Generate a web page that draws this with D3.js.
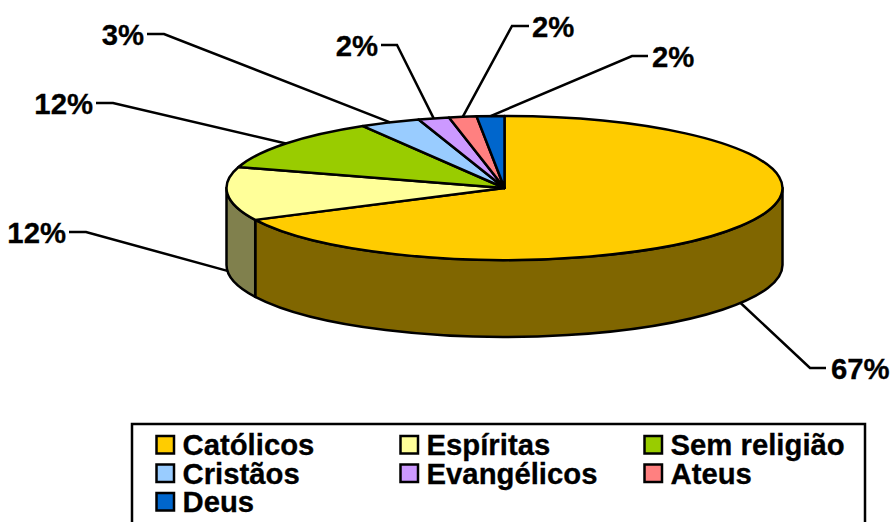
<!DOCTYPE html>
<html>
<head>
<meta charset="utf-8">
<style>
    html, body { margin: 0; padding: 0; background: #fff; overflow: hidden; }
    text { font-family: "Liberation Sans", Arial, sans-serif; font-weight: bold; fill: #000; stroke: #000; stroke-width: 0.3px; }
</style>
</head>
<body>
<div id="chart"></div>
<script src="https://cdn.jsdelivr.net/npm/d3@7"></script>
<script>
var categories = ['Católicos', 'Espíritas', 'Sem religião', 'Cristãos', 'Evangélicos', 'Ateus', 'Deus'];
var values     = [67.7, 12.0, 11.8, 3.5, 1.8, 1.6, 1.6];
var pctLabels  = ['67%', '12%', '12%', '3%', '2%', '2%', '2%'];
var colors     = ['#ffcc00', '#ffff99', '#99cc00', '#99ccff', '#cc99ff', '#ff8080', '#0066cc'];

(function () {
    var width = 892, height = 522;
    var cx = 504.5, cy = 188, rx = 278, ry = 72, depth = 77;
    var fontSize = 29.3, lineWidth = 2.5;

    // leader elbow, stub end and text anchor for each slice
    var leaders = [
        { ex: 810, ey: 368, sx: 826, tx: 831, anchor: 'start' },
        { ex: 86,  ey: 232, sx: 69,  tx: 66,  anchor: 'end' },
        { ex: 113, ey: 103, sx: 96,  tx: 93,  anchor: 'end' },
        { ex: 164, ey: 34,  sx: 147, tx: 144, anchor: 'end' },
        { ex: 397, ey: 45,  sx: 381, tx: 378, anchor: 'end' },
        { ex: 512, ey: 26,  sx: 529, tx: 532, anchor: 'start' },
        { ex: 632, ey: 56,  sx: 648, tx: 652, anchor: 'start' }
    ];

    var svg = d3.select('#chart')
        .append('svg')
        .attr('width', width)
        .attr('height', height)
        .attr('viewBox', '0 0 ' + width + ' ' + height);

    var arcs = d3.pie().sort(null)(values);

    function px(a) { return cx + rx * Math.sin(a); }
    function py(a) { return cy - ry * Math.cos(a); }

    function topPath(d) {
        var large = d.endAngle - d.startAngle > Math.PI ? 1 : 0;
        return 'M' + cx + ',' + cy +
            'L' + px(d.startAngle) + ',' + py(d.startAngle) +
            'A' + rx + ',' + ry + ' 0 ' + large + ' 1 ' + px(d.endAngle) + ',' + py(d.endAngle) + 'Z';
    }

    // only the part of a slice between 3 and 9 o'clock shows its wall
    function sidePath(d) {
        var a0 = Math.max(d.startAngle, Math.PI / 2);
        var a1 = Math.min(d.endAngle, Math.PI * 1.5);
        if (a1 <= a0) return null;
        return 'M' + px(a0) + ',' + py(a0) +
            'A' + rx + ',' + ry + ' 0 0 1 ' + px(a1) + ',' + py(a1) +
            'L' + px(a1) + ',' + (py(a1) + depth) +
            'A' + rx + ',' + ry + ' 0 0 0 ' + px(a0) + ',' + (py(a0) + depth) + 'Z';
    }

    function shade(c) {
        var rgb = d3.rgb(c);
        return d3.rgb(rgb.r * 0.5, rgb.g * 0.5, rgb.b * 0.5).toString();
    }

    svg.append('g').selectAll('path')
        .data(arcs.filter(sidePath))
        .enter().append('path')
        .attr('d', sidePath)
        .attr('fill', function (d) { return shade(colors[d.index]); })
        .attr('stroke', '#000')
        .attr('stroke-width', lineWidth)
        .attr('stroke-linejoin', 'round');

    svg.append('g').selectAll('path')
        .data(arcs)
        .enter().append('path')
        .attr('d', topPath)
        .attr('fill', function (d) { return colors[d.index]; })
        .attr('stroke', '#000')
        .attr('stroke-width', lineWidth)
        .attr('stroke-linejoin', 'round');

    /* Leader lines and percentages */
    arcs.forEach(function (d) {
        var mid = (d.startAngle + d.endAngle) / 2;
        var l = leaders[d.index];
        var ay = py(mid) + (Math.cos(mid) < 0 ? depth : 0);

        svg.append('path')
            .attr('d', 'M' + px(mid) + ',' + ay + 'L' + l.ex + ',' + l.ey + 'L' + l.sx + ',' + l.ey)
            .attr('fill', 'none')
            .attr('stroke', '#000')
            .attr('stroke-width', lineWidth);

        svg.append('text')
            .attr('x', l.tx)
            .attr('y', l.ey + 10.5)
            .attr('text-anchor', l.anchor)
            .attr('font-size', fontSize)
            .text(pctLabels[d.index]);
    });

    /* Legend */
    var legendCols = 3, colStep = 244, rowStep = 28.5;

    svg.append('rect')
        .attr('x', 132)
        .attr('y', 424)
        .attr('width', 733)
        .attr('height', 120)
        .attr('fill', '#fff')
        .attr('stroke', '#000')
        .attr('stroke-width', lineWidth);

    categories.forEach(function (name, i) {
        var col = i % legendCols;
        var row = Math.floor(i / legendCols);
        var lx = 156.5 + col * colStep;
        var ly = 436 + row * rowStep;

        svg.append('rect')
            .attr('x', lx)
            .attr('y', ly)
            .attr('width', 17.5)
            .attr('height', 17.5)
            .attr('fill', colors[i])
            .attr('stroke', '#000')
            .attr('stroke-width', lineWidth);

        svg.append('text')
            .attr('x', lx + 26)
            .attr('y', ly + 19)
            .attr('font-size', fontSize)
            .text(name);
    });
})();
</script>
</body>
</html>
